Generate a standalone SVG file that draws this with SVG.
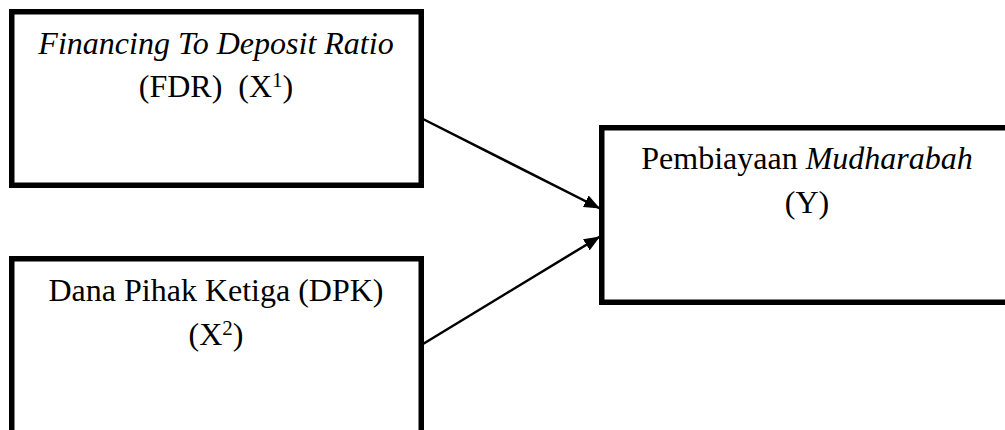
<svg xmlns="http://www.w3.org/2000/svg" width="1005" height="430" viewBox="0 0 1005 430">
<style>
.box{fill:#fff;stroke:#000;stroke-width:5.5}
.t{font-family:'Liberation Serif',Tinos,'Times New Roman',Times,'DejaVu Serif',serif;font-size:32px;fill:#000;text-anchor:middle}
.i{font-style:italic}
.sup{font-size:21px}
.c{stroke:#000;stroke-width:2.5;fill:none}
</style>
<defs>
<marker id="ah" markerUnits="userSpaceOnUse" markerWidth="17" markerHeight="13" refX="16" refY="6.5" orient="auto">
<path d="M0,0 L16,6.5 L0,13 z" fill="#000"/>
</marker>
</defs>
<rect width="1005" height="430" fill="#fff"/>
<g id="node-fdr">
<rect class="box" x="11.75" y="11.75" width="409.5" height="173.5"/>
<text class="t" x="216" y="54"><tspan class="i">Financing To Deposit Ratio</tspan></text>
<text class="t" x="216" y="97" xml:space="preserve">(FDR)  (X<tspan class="sup" dy="-10">1</tspan><tspan dy="10">)</tspan></text>
</g>
<g id="node-dpk">
<rect class="box" x="11.75" y="258.75" width="409.5" height="200"/>
<text class="t" x="216" y="301">Dana Pihak Ketiga (DPK)</text>
<text class="t" x="216" y="345">(X<tspan class="sup" dy="-10">2</tspan><tspan dy="10">)</tspan></text>
</g>
<g id="node-y">
<rect class="box" x="601.75" y="127.75" width="410" height="174.5"/>
<text class="t" x="807" y="169">Pembiayaan <tspan class="i">Mudharabah</tspan></text>
<text class="t" x="807" y="213">(Y)</text>
</g>
<g id="connectors">
<line class="c" x1="423" y1="119" x2="600" y2="208.5" marker-end="url(#ah)"/>
<line class="c" x1="423" y1="344" x2="600" y2="236.5" marker-end="url(#ah)"/>
</g>
</svg>
